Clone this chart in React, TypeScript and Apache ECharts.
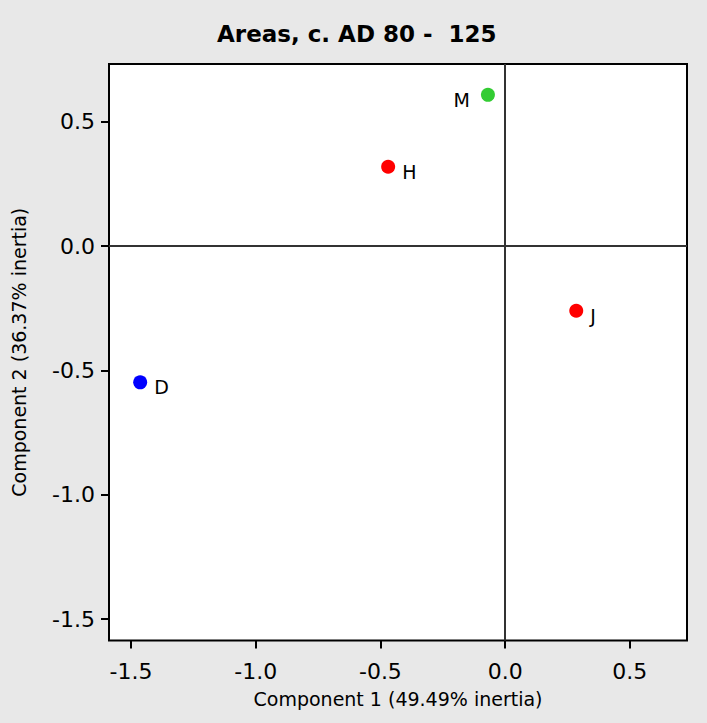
import React, { useEffect, useRef } from "react";
import * as echarts from "echarts";

const names = ["M", "H", "J", "D"];
const xValues = [-0.069, -0.469, 0.285, -1.463];
const yValues = [0.608, 0.319, -0.26, -0.548];
const pointColors = ["#33cc33", "#ff0000", "#ff0000", "#0000ff"];
const labelSides = ["left", "right", "right", "right"];
const tickValues = [-1.5, -1.0, -0.5, 0.0, 0.5];

const FONT = "DejaVu Sans";

export default function App() {
  const ref = useRef<HTMLDivElement>(null);
  useEffect(() => {
    if (!ref.current) return;
    const chart = echarts.init(ref.current, undefined, { renderer: "svg" });
    const data = names.map((n, i) => ({
      name: n,
      value: [xValues[i], yValues[i]],
      itemStyle: { color: pointColors[i], opacity: 1 },
      label: {
        show: true,
        formatter: n,
        position: labelSides[i],
        distance: labelSides[i] === "left" ? 11 : 7,
        offset: [0, 5],
        color: "#000",
        fontSize: 19,
        fontFamily: FONT,
      },
    }));
    const axisCommon = {
      type: "value",
      axisLine: { show: false, onZero: false },
      axisTick: {
        show: true,
        customValues: tickValues,
        length: 8,
        lineStyle: { color: "#000", width: 2 },
      },
      axisLabel: {
        customValues: tickValues,
        formatter: (v: number) => v.toFixed(1),
        color: "#000",
        fontSize: 22,
        fontFamily: FONT,
      },
      splitLine: { show: false },
      nameLocation: "middle",
      nameTextStyle: { color: "#000", fontSize: 19, fontFamily: FONT },
    };
    chart.setOption({
      animation: false,
      backgroundColor: "#e8e8e8",
      title: {
        text: "Areas, c. AD 80 -  125",
        left: 212,
        top: 17,
        textStyle: { fontSize: 23, fontWeight: "bold", fontFamily: FONT, color: "#000" },
      },
      grid: {
        show: true,
        left: 109,
        right: 20,
        top: 64,
        bottom: 82.5,
        backgroundColor: "#ffffff",
        borderColor: "#000",
        borderWidth: 2,
      },
      xAxis: {
        ...axisCommon,
        min: -1.588,
        max: 0.729,
        name: "Component 1 (49.49% inertia)",
        nameGap: 49,
        axisLabel: { ...axisCommon.axisLabel, margin: 20 },
      },
      yAxis: {
        ...axisCommon,
        min: -1.586,
        max: 0.732,
        name: "Component 2 (36.37% inertia)",
        nameGap: 81,
        axisLabel: { ...axisCommon.axisLabel, margin: 14 },
      },
      series: [
        {
          type: "scatter",
          symbol: "circle",
          symbolSize: 14,
          data,
          markLine: {
            silent: true,
            symbol: ["none", "none"],
            label: { show: false },
            lineStyle: { color: "#333", width: 2, type: "solid", opacity: 1 },
            data: [{ xAxis: 0 }, { yAxis: 0 }],
          },
          z: 3,
        },
      ],
    });
    return () => chart.dispose();
  }, []);
  return (
    <div
      ref={ref}
      style={{ position: "absolute", left: 0, top: 0, width: 707, height: 723 }}
    />
  );
}
